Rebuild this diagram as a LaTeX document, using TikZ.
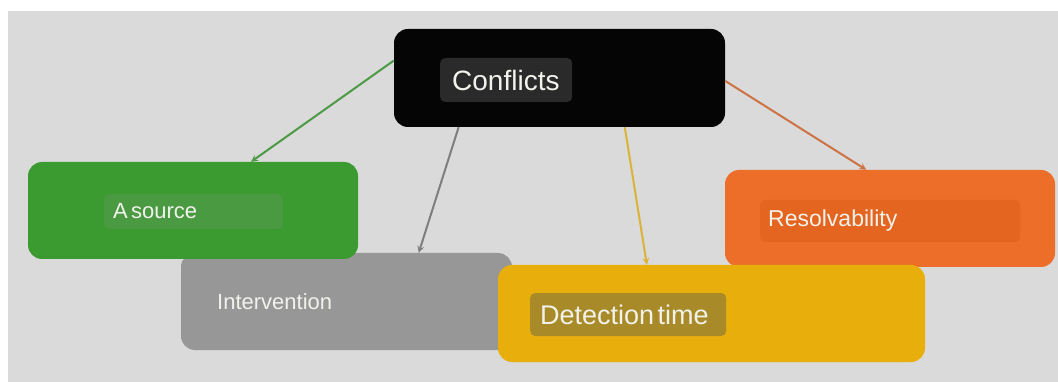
\documentclass[tikz,border=0pt]{standalone}
\usepackage{fontspec}
\setmainfont{Liberation Sans}
\definecolor{bggray}{HTML}{DADADA}
\definecolor{confblack}{HTML}{050505}
\definecolor{conftag}{HTML}{2A2A2A}
\definecolor{srcgreen}{HTML}{3B9B30}
\definecolor{srctag}{HTML}{4A9A42}
\definecolor{intgray}{HTML}{979797}
\definecolor{detyellow}{HTML}{E8AE0C}
\definecolor{dettag}{HTML}{A88B28}
\definecolor{resorange}{HTML}{EC6E28}
\definecolor{restag}{HTML}{E4651F}
\definecolor{greenline}{HTML}{4C9A45}
\definecolor{grayline}{HTML}{7E7E7E}
\definecolor{yellowline}{HTML}{DDB238}
\definecolor{orangeline}{HTML}{CD7343}
\definecolor{lighttext}{HTML}{F2F2EC}

\begin{document}
\begin{tikzpicture}[x=1pt,y=-1pt,>=stealth,
    box/.style={rounded corners=14pt,inner sep=0pt,minimum height=97pt},
    tag/.style={anchor=west,rounded corners=5pt,inner ysep=0pt,align=left,text=lighttext}]
  \useasboundingbox (0,0) rectangle (1058,382);
  \fill[bggray] (8,11) rectangle (1058,382);

  % boxes, back to front
  \node[box,fill=resorange,minimum width=330pt] (res) at (890,218.5) {};
  \node[box,fill=intgray,minimum width=331pt] (int) at (346.5,301.5) {};
  \node[box,fill=srcgreen,minimum width=330pt] (src) at (193,210.5) {};
  \node[box,fill=detyellow,minimum width=427pt] (det) at (711.5,313.5) {};
  \node[box,fill=confblack,minimum width=331pt,minimum height=98pt] (conf) at (559.5,78) {};

  % labels
  \node[tag,fill=conftag,inner xsep=12pt,minimum height=44pt,text width=108pt] (conf-lbl) at (440,80)
    {\fontsize{28}{30}\selectfont Conflicts};
  \node[tag,fill=srctag,inner xsep=9pt,minimum height=35pt,text width=161pt] (src-lbl) at (104,211.5)
    {\fontsize{22}{24}\selectfont A source};
  \node[tag,inner xsep=0pt,text width=140pt] (int-lbl) at (217,302)
    {\fontsize{22}{24}\selectfont Intervention};
  \node[tag,fill=dettag,inner xsep=10pt,minimum height=43pt,text width=176pt] (det-lbl) at (530,314.5)
    {\fontsize{27}{29}\selectfont Detection time};
  \node[tag,fill=restag,inner xsep=8pt,minimum height=42pt,text width=244pt] (res-lbl) at (760,221)
    {\fontsize{23}{25}\selectfont Resolvability};

  \path[->,line width=2pt]
    (conf.174.5) edge[greenline] (src.40.4)
    (conf.206.7) edge[grayline] (int.34.1)
    (conf.323.2) edge[yellowline] (det.143.1)
    (conf.-1.4) edge[orangeline] (res.116.3)
    ;
\end{tikzpicture}
\end{document}
